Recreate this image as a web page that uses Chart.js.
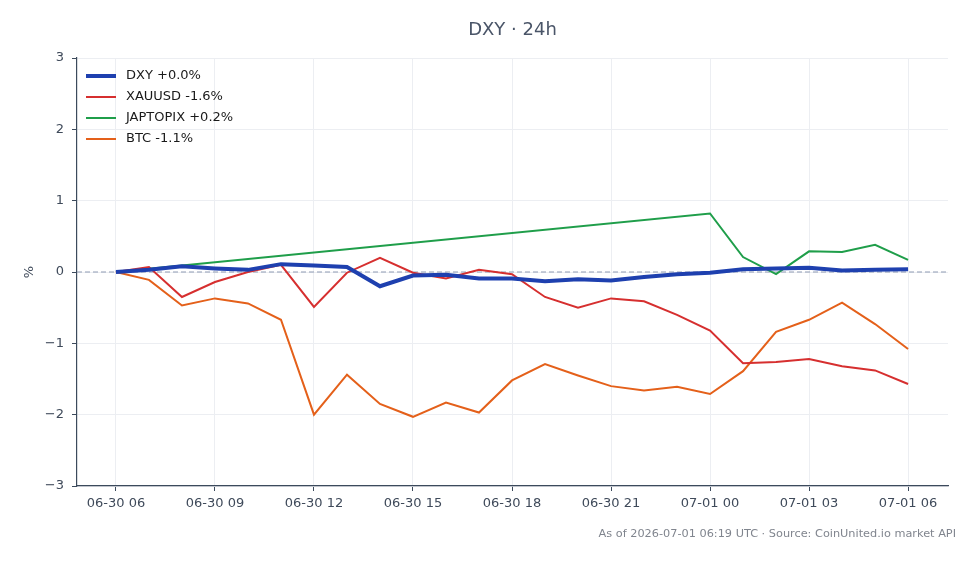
<!DOCTYPE html>
<html>
<head>
<meta charset="utf-8">
<script src="https://cdn.jsdelivr.net/npm/chart.js@4/dist/chart.umd.min.js"></script>
<style>
  html, body { margin: 0; padding: 0; background: #fff; }
  #wrap { width: 980px; height: 564px; }
</style>
</head>
<body>
<div id="wrap"><canvas id="dxyChart" width="980" height="564"></canvas></div>
<script>
// hours since 06-30 06:00 UTC
const horas = ['06-30 06','06-30 07','06-30 08','06-30 09','06-30 10','06-30 11','06-30 12','06-30 13','06-30 14',
  '06-30 15','06-30 16','06-30 17','06-30 18','06-30 19','06-30 20','06-30 21','06-30 22','06-30 23',
  '07-01 00','07-01 01','07-01 02','07-01 03','07-01 04','07-01 05','07-01 06'];

const dxy = [0, 0.03, 0.08, 0.05, 0.03, 0.11, 0.09, 0.07, -0.2, -0.05, -0.04, -0.09, -0.09, -0.13,
  -0.1, -0.12, -0.07, -0.03, -0.01, 0.04, 0.05, 0.06, 0.02, 0.03, 0.04];
const xauusd = [0, 0.07, -0.35, -0.14, 0.0, 0.1, -0.49, -0.01, 0.2, -0.01, -0.09, 0.03, -0.03, -0.35,
  -0.5, -0.37, -0.41, -0.6, -0.82, -1.28, -1.26, -1.22, -1.32, -1.38, -1.57];
const japtopix = [0, null, null, null, null, null, null, null, null, null, null, null, null, null,
  null, null, null, null, 0.82, 0.21, -0.03, 0.29, 0.28, 0.38, 0.17];
const btc = [0, -0.11, -0.47, -0.37, -0.44, -0.67, -2.0, -1.44, -1.85, -2.03, -1.83, -1.97, -1.52, -1.29,
  -1.45, -1.6, -1.66, -1.61, -1.71, -1.39, -0.84, -0.67, -0.43, -0.73, -1.08];

const series = [
  { label: 'DXY +0.0%', valores: dxy, color: '#1e40af', ancho: 4 },
  { label: 'XAUUSD -1.6%', valores: xauusd, color: '#d62f2f', ancho: 2 },
  { label: 'JAPTOPIX +0.2%', valores: japtopix, color: '#1f9e4a', ancho: 2 },
  { label: 'BTC -1.1%', valores: btc, color: '#e4601a', ancho: 2 }
];

const nota = 'As of 2026-07-01 06:19 UTC \u00b7 Source: CoinUnited.io market API';

const extras = {
  id: 'extras',
  beforeDatasetsDraw(chart) {
    // dashed zero line
    const { ctx, chartArea } = chart;
    const y = chart.scales.y.getPixelForValue(0);
    ctx.save();
    ctx.strokeStyle = '#8f9bb3';
    ctx.lineWidth = 1;
    ctx.setLineDash([5, 3]);
    ctx.beginPath();
    ctx.moveTo(chartArea.left, y);
    ctx.lineTo(chartArea.right, y);
    ctx.stroke();
    ctx.restore();
  },
  afterDraw(chart) {
    const { ctx, chartArea } = chart;
    ctx.save();
    // legend inside the plot, top-left
    ctx.font = '13px "DejaVu Sans"';
    ctx.textBaseline = 'middle';
    ctx.textAlign = 'left';
    chart.data.datasets.forEach((ds, i) => {
      const y = chartArea.top + 18 + i * 21;
      const x = chartArea.left + 9;
      ctx.strokeStyle = ds.borderColor;
      ctx.lineWidth = ds.borderWidth;
      ctx.beginPath();
      ctx.moveTo(x, y);
      ctx.lineTo(x + 30, y);
      ctx.stroke();
      ctx.fillStyle = '#1a1a1a';
      ctx.fillText(ds.label, x + 40, y);
    });
    // source note
    ctx.font = '11.3px "DejaVu Sans"';
    ctx.fillStyle = '#80858e';
    ctx.textAlign = 'right';
    ctx.fillText(nota, 956, 534);
    ctx.restore();
  }
};

const ctx = document.getElementById('dxyChart').getContext('2d');

new Chart(ctx, {
  type: 'line',
  data: {
    datasets: series.map(s => ({
      label: s.label,
      data: s.valores.map((v, i) => ({ x: i, y: v })),
      borderColor: s.color,
      backgroundColor: s.color,
      borderWidth: s.ancho,
      pointRadius: 0,
      tension: 0,
      spanGaps: true
    }))
  },
  options: {
    responsive: false,
    animation: false,
    layout: { padding: { left: 0, right: 32, top: 0, bottom: 0 } },
    plugins: {
      title: {
        display: true,
        text: 'DXY \u00b7 24h',
        fullSize: false,
        color: '#4a5568',
        font: { family: 'DejaVu Sans', size: 18, weight: 'normal' },
        padding: { top: 20, bottom: 16.4 }
      },
      legend: { display: false },
      tooltip: { enabled: false }
    },
    scales: {
      x: {
        type: 'linear',
        min: -1.18,
        max: 25.21,
        afterFit: scale => { scale.height = 78; },
        border: { color: '#3c4a5c', width: 1.2 },
        grid: { color: '#eceef2', tickColor: '#3c4a5c', tickLength: 5 },
        ticks: {
          stepSize: 3,
          includeBounds: false,
          autoSkip: false,
          maxRotation: 0,
          padding: 5,
          color: '#3f4a5a',
          font: { family: 'DejaVu Sans', size: 13 },
          callback: v => horas[v] || ''
        }
      },
      y: {
        min: -3,
        max: 3,
        afterFit: scale => { scale.width = 77; },
        border: { color: '#3c4a5c', width: 1.2 },
        grid: { color: '#eceef2', tickColor: '#3c4a5c', tickLength: 5 },
        ticks: {
          stepSize: 1,
          padding: 8,
          color: '#3f4a5a',
          font: { family: 'DejaVu Sans', size: 13 },
          callback: v => v < 0 ? '\u2212' + Math.abs(v) : String(v)
        },
        title: {
          display: true,
          text: '%',
          color: '#3f4a5a',
          font: { family: 'DejaVu Sans', size: 13 },
          padding: { top: 22, bottom: 0 }
        }
      }
    }
  },
  plugins: [extras]
});
</script>
</body>
</html>
